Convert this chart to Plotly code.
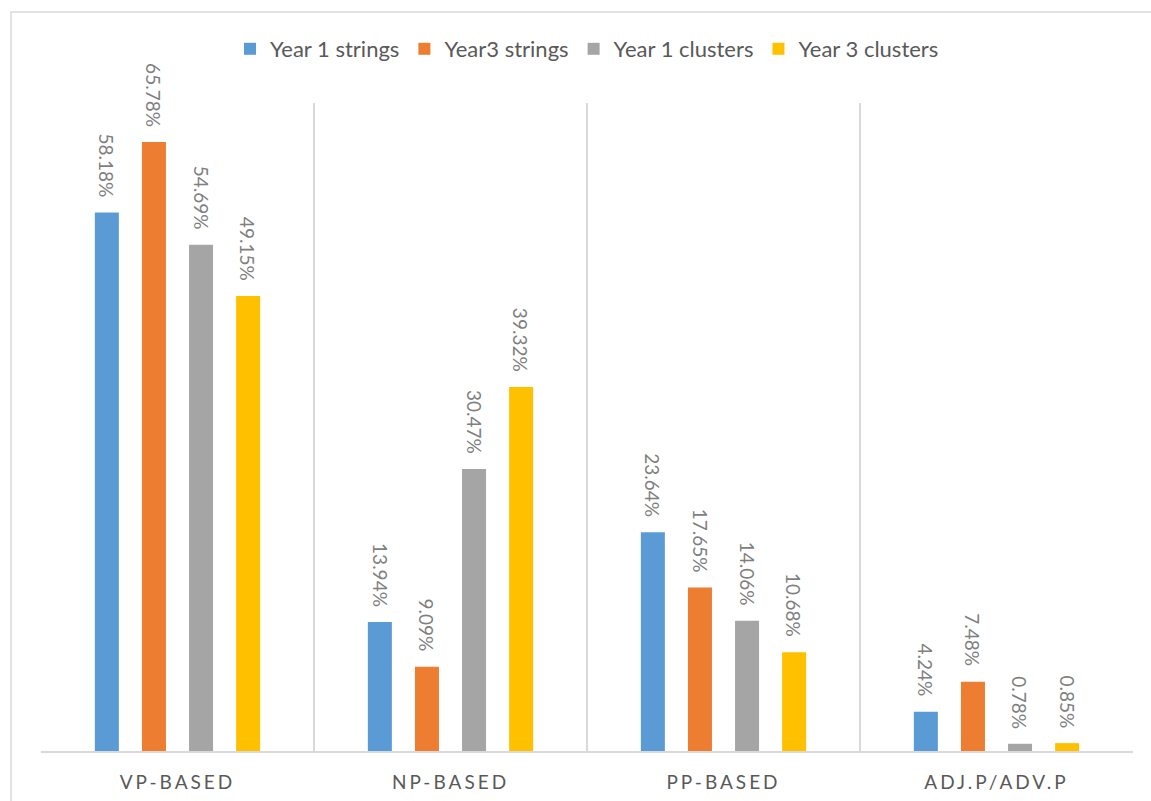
import plotly.graph_objects as go

# Phrase categories and the share of each in four samples
categories = ["VP-BASED", "NP-BASED", "PP-BASED", "ADJ.P/ADV.P"]
series_names = ["Year 1 strings", "Year3 strings", "Year 1 clusters", "Year 3 clusters"]
year1_strings = [58.18, 13.94, 23.64, 4.24]
year3_strings = [65.78, 9.09, 17.65, 7.48]
year1_clusters = [54.69, 30.47, 14.06, 0.78]
year3_clusters = [49.15, 39.32, 10.68, 0.85]
series_values = [year1_strings, year3_strings, year1_clusters, year3_clusters]
colors = ["#5B9BD5", "#ED7D31", "#A5A5A5", "#FFC000"]

FONT = "Lato"
BARGAP = 0.31
BARGROUPGAP = 0.49

fig = go.Figure()
for name, vals, col in zip(series_names, series_values, colors):
    fig.add_trace(go.Bar(
        name=name, x=categories, y=vals,
        marker=dict(color=col, line=dict(width=0)),
        hoverinfo="skip",
    ))

# Value labels, rotated and placed above each bar of the group
n = len(series_values)
slot = (1 - BARGAP) / n
annotations = []
for i, vals in enumerate(series_values):
    for j, v in enumerate(vals):
        annotations.append(dict(
            x=j - (1 - BARGAP) / 2 + slot * (i + 0.5), y=v,
            xref="x", yref="y", text=f"{v:.2f}%", showarrow=False,
            textangle=90, xanchor="center", yanchor="bottom", yshift=13,
            font=dict(family=FONT, size=19, color="#7F7F7F"),
        ))

fig.update_layout(
    width=1151, height=801,
    margin=dict(l=41, r=18, t=103, b=50, autoexpand=False),
    paper_bgcolor="white", plot_bgcolor="white",
    barmode="group", bargap=BARGAP, bargroupgap=BARGROUPGAP,
    font=dict(family=FONT, color="#595959"),
    showlegend=True,
    legend=dict(
        orientation="h", x=0.5, xanchor="center",
        yref="container", y=1 - 49 / 801, yanchor="middle",
        font=dict(family=FONT, size=22, color="#595959"),
        itemclick=False, itemdoubleclick=False,
    ),
    annotations=annotations,
    xaxis=dict(
        type="category", tickson="boundaries", ticks="", automargin=False,
        showgrid=True, gridcolor="#D9D9D9", gridwidth=1.5,
        showline=True, linecolor="#D9D9D9", linewidth=1.5,
        tickfont=dict(family=FONT, size=19, color="#595959"),
        ticklabelstandoff=13,
    ),
    yaxis=dict(range=[0, 70], showgrid=False, showticklabels=False,
               zeroline=False, showline=False, ticks="", automargin=False),
    shapes=[dict(
        type="rect", xref="paper", yref="paper",
        x0=(11 - 41) / 1092, x1=(1170 - 41) / 1092,
        y0=-(820 - 751) / 648, y1=1 + (103 - 12) / 648,
        line=dict(color="#D9D9D9", width=1.5), layer="below",
    )],
)

# Spaced capitals for the category labels
post = ("document.querySelectorAll('.xtick text').forEach(function(t){"
        "t.setAttribute('letter-spacing','3px');});")
fig.write_html("out.html", post_script=post)
